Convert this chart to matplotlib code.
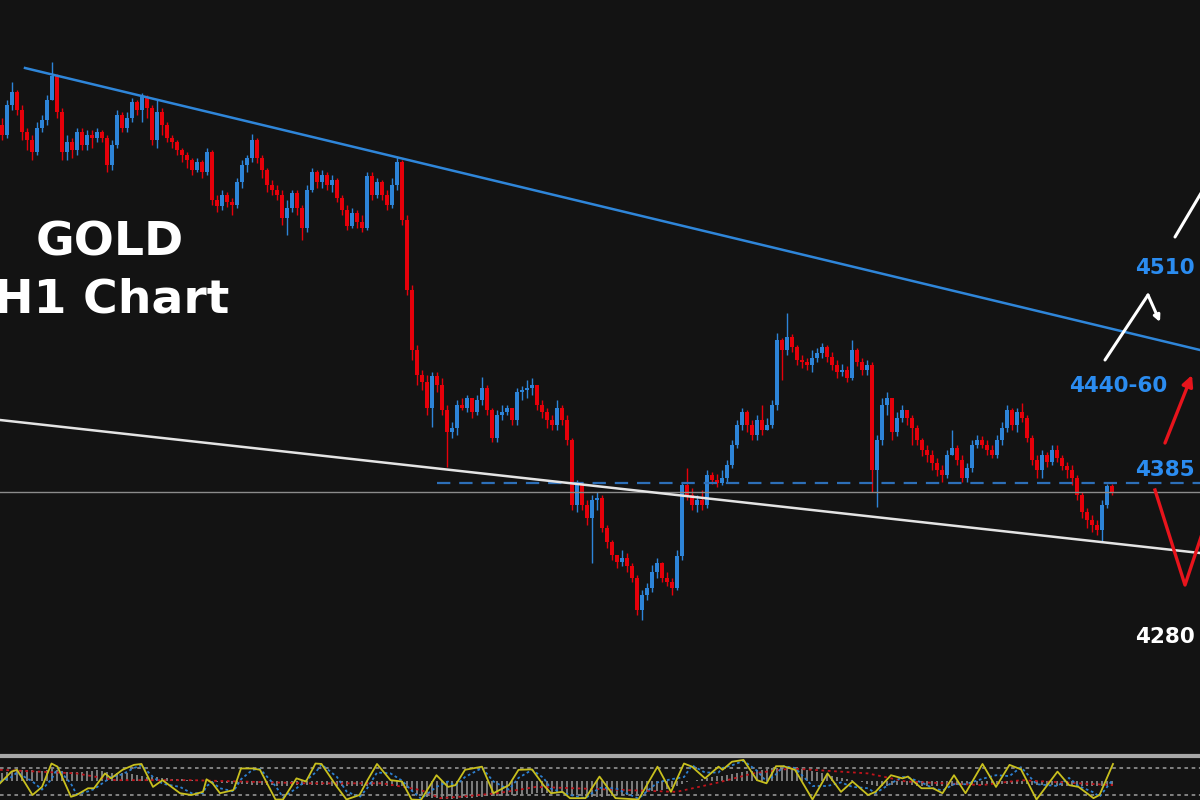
import numpy as np
import matplotlib.pyplot as plt

# GOLD H1 candles (USD), oldest first
first_open = 4743
closes = [4733, 4763, 4776, 4758, 4736, 4728, 4716, 4740, 4748, 4768,
          4792, 4756, 4716, 4726, 4718, 4736, 4723, 4733, 4730, 4736,
          4730, 4703, 4723, 4753, 4740, 4750, 4766, 4758, 4771, 4760,
          4728, 4756, 4743, 4730, 4726, 4718, 4713, 4708, 4698, 4706,
          4696, 4716, 4668, 4662, 4673, 4666, 4663, 4686, 4703, 4710,
          4728, 4710, 4698, 4683, 4678, 4673, 4650, 4660, 4675, 4660,
          4640, 4678, 4696, 4686, 4693, 4683, 4688, 4670, 4658, 4642,
          4655, 4646, 4640, 4692, 4673, 4686, 4673, 4663, 4683, 4706,
          4648, 4578, 4518, 4493, 4486, 4460, 4492, 4483, 4458, 4436,
          4440, 4463, 4460, 4470, 4456, 4468, 4480, 4458, 4430, 4453,
          4456, 4460, 4448, 4476, 4478, 4480, 4483, 4463, 4456, 4448,
          4443, 4460, 4448, 4428, 4363, 4383, 4363, 4350, 4368, 4370,
          4340, 4326, 4313, 4306, 4310, 4302, 4290, 4258, 4273, 4280,
          4296, 4305, 4290, 4286, 4280, 4312, 4383, 4373, 4363, 4368,
          4363, 4393, 4388, 4385, 4390, 4403, 4423, 4443, 4456, 4443,
          4433, 4448, 4438, 4443, 4463, 4528, 4518, 4531, 4521, 4508,
          4506, 4503, 4510, 4515, 4521, 4511, 4503, 4496, 4498, 4490,
          4518, 4506, 4498, 4503, 4398, 4428, 4463, 4470, 4436, 4450,
          4458, 4450, 4440, 4428, 4418, 4413, 4405, 4398, 4393, 4413,
          4420, 4408, 4390, 4400, 4423, 4428, 4423, 4418, 4413, 4428,
          4440, 4458, 4443, 4456, 4450, 4430, 4408, 4398, 4413, 4406,
          4418, 4410, 4402, 4398, 4390, 4373, 4356, 4348, 4343, 4338,
          4363, 4382, 4376]
highs = [4750, 4768, 4786, 4778, 4763, 4740, 4733, 4746, 4753, 4773,
         4806, 4794, 4760, 4733, 4730, 4740, 4740, 4738, 4738, 4740,
         4738, 4733, 4728, 4758, 4756, 4756, 4770, 4768, 4775, 4773,
         4763, 4768, 4760, 4746, 4733, 4728, 4720, 4716, 4710, 4710,
         4708, 4720, 4718, 4673, 4678, 4676, 4670, 4690, 4708, 4713,
         4734, 4730, 4713, 4700, 4688, 4683, 4678, 4668, 4678, 4678,
         4663, 4683, 4700, 4698, 4698, 4696, 4693, 4690, 4673, 4663,
         4660, 4658, 4653, 4696, 4696, 4690, 4688, 4678, 4690, 4711,
         4708, 4653, 4583, 4523, 4498, 4493, 4496, 4496, 4490, 4463,
         4446, 4468, 4470, 4473, 4470, 4473, 4491, 4483, 4460, 4458,
         4463, 4463, 4460, 4480, 4482, 4488, 4490, 4483, 4468, 4460,
         4453, 4468, 4463, 4453, 4430, 4388, 4386, 4368, 4373, 4376,
         4373, 4343, 4328, 4313, 4318, 4315, 4305, 4293, 4278, 4285,
         4303, 4310, 4306, 4296, 4290, 4318, 4386, 4400, 4380, 4373,
         4378, 4398, 4396, 4394, 4398, 4408, 4428, 4448, 4460, 4458,
         4448, 4453, 4463, 4450, 4468, 4535, 4530, 4555, 4534, 4523,
         4513, 4510, 4518, 4520, 4525, 4523, 4516, 4508, 4504, 4502,
         4528, 4520, 4510, 4508, 4506, 4433, 4470, 4476, 4468, 4456,
         4463, 4458, 4453, 4443, 4430, 4423, 4418, 4410, 4403, 4418,
         4438, 4423, 4413, 4405, 4428, 4433, 4432, 4428, 4423, 4433,
         4446, 4463, 4460, 4460, 4465, 4453, 4433, 4413, 4418, 4416,
         4423, 4423, 4413, 4406, 4403, 4393, 4376, 4360, 4353, 4348,
         4368, 4384, 4384]
lows = [4728, 4730, 4758, 4753, 4728, 4718, 4708, 4713, 4736, 4743,
        4768, 4750, 4708, 4708, 4710, 4713, 4718, 4718, 4720, 4726,
        4726, 4696, 4698, 4720, 4736, 4736, 4746, 4753, 4746, 4750,
        4723, 4720, 4733, 4726, 4720, 4713, 4706, 4700, 4693, 4696,
        4690, 4693, 4663, 4656, 4658, 4661, 4653, 4660, 4680, 4696,
        4706, 4705, 4690, 4676, 4673, 4668, 4643, 4633, 4656, 4653,
        4628, 4636, 4676, 4680, 4680, 4678, 4676, 4666, 4653, 4638,
        4640, 4640, 4636, 4638, 4668, 4670, 4668, 4658, 4660, 4678,
        4643, 4573, 4508, 4483, 4478, 4453, 4441, 4476, 4453, 4401,
        4430, 4433, 4458, 4456, 4450, 4453, 4463, 4453, 4426, 4426,
        4448, 4453, 4443, 4443, 4468, 4470, 4473, 4458, 4450, 4440,
        4438, 4438, 4443, 4423, 4358, 4356, 4358, 4343, 4305, 4358,
        4336, 4320, 4308, 4300, 4302, 4296, 4286, 4253, 4248, 4268,
        4276, 4290, 4286, 4282, 4273, 4278, 4308, 4368, 4358, 4356,
        4358, 4360, 4384, 4381, 4383, 4386, 4400, 4420, 4438, 4436,
        4428, 4428, 4433, 4438, 4440, 4458, 4488, 4513, 4516, 4503,
        4500, 4498, 4496, 4506, 4510, 4506, 4498, 4490, 4492, 4486,
        4488, 4502, 4493, 4493, 4376, 4361, 4423, 4453, 4428, 4432,
        4446, 4443, 4423, 4423, 4412, 4406, 4398, 4392, 4386, 4390,
        4413, 4403, 4386, 4386, 4396, 4420, 4420, 4413, 4410, 4410,
        4423, 4436, 4438, 4436, 4446, 4426, 4403, 4390, 4390, 4401,
        4403, 4406, 4398, 4390, 4383, 4368, 4350, 4340, 4336, 4333,
        4326, 4360, 4373]

# trend channel (bar index, price)
upper_trend_x = [4.6, 239.6]
upper_trend_p = [4800, 4518]
lower_trend_x = [-0.4, 239.6]
lower_trend_p = [4448, 4315]
pivot_level = 4385
ref_level = 4376

# projected scenarios
bull_path_x = [220.6, 229.2, 231.6]
bull_path_p = [4508, 4573, 4546]
bull_ext_x = [234.6, 241.6]
bull_ext_p = [4631, 4690]
bear_path_x = [230.6, 236.6, 240.6]
bear_path_p = [4378, 4283, 4343]
rebound_x = [232.6, 238.0]
rebound_p = [4425, 4493]

level_labels = ['4510', '4440-60', '4385', '4280']
level_label_x = [232.6, 223.2, 232.6, 232.6]
level_label_p = [4600, 4482, 4398, 4231]
level_label_colors = ['#2b8cf0', '#2b8cf0', '#2b8cf0', 'white']

# stochastic oscillator (lower pane)
osc_x = [-0.4, 1.9, 3.0, 6.1, 8.0, 9.9, 11.1, 13.8, 14.9, 17.2,
         18.4, 20.6, 21.8, 24.1, 26.4, 27.9, 30.2, 32.1, 35.6, 37.9,
         40.2, 40.9, 42.1, 43.6, 46.3, 47.8, 50.1, 51.6, 54.7, 56.2,
         58.9, 60.8, 62.7, 63.9, 67.0, 68.9, 71.5, 73.1, 75.0, 77.7,
         80.0, 81.9, 83.8, 86.9, 89.2, 90.7, 92.6, 96.0, 98.3, 101.4,
         103.3, 106.0, 108.3, 109.8, 112.1, 113.6, 116.7, 119.5, 122.7, 127.3,
         131.1, 133.8, 136.4, 138.0, 140.6, 143.3, 144.1, 146.0, 148.3, 151.0,
         152.9, 154.8, 156.3, 158.6, 162.1, 165.1, 167.8, 170.1, 173.2, 174.7,
         177.8, 180.1, 181.2, 183.9, 186.2, 188.1, 190.4, 192.7, 196.1, 198.8,
         201.5, 203.8, 206.9, 211.1, 213.4, 215.3, 218.3, 219.5, 222.2]
osc_k = [46, 72, 76, 20, 38, 90, 83, 16, 20, 35,
         35, 68, 57, 76, 87, 89, 38, 53, 24, 20,
         27, 55, 46, 24, 31, 79, 79, 76, 10, 10,
         57, 50, 90, 89, 38, 10, 20, 53, 89, 53,
         50, 10, 9, 64, 38, 42, 76, 83, 24, 42,
         76, 77, 42, 24, 27, 13, 13, 61, 13, 10,
         83, 27, 90, 83, 57, 83, 76, 94, 98, 53,
         46, 84, 84, 76, 10, 68, 27, 50, 20, 27,
         64, 57, 61, 35, 35, 24, 64, 24, 89, 38,
         87, 77, 10, 72, 42, 38, 13, 20, 89]
osc_d = [50, 60, 70, 50, 32, 55, 80, 45, 22, 28,
         33, 50, 60, 66, 80, 86, 60, 45, 38, 24,
         24, 40, 48, 35, 28, 55, 76, 78, 40, 15,
         35, 52, 70, 88, 60, 28, 15, 36, 70, 68,
         52, 30, 12, 38, 50, 40, 60, 80, 50, 32,
         58, 76, 58, 34, 26, 20, 13, 36, 35, 12,
         48, 55, 60, 86, 70, 70, 80, 86, 96, 74,
         50, 66, 84, 80, 40, 40, 48, 38, 35, 24,
         46, 60, 59, 48, 35, 30, 44, 44, 56, 64,
         62, 82, 44, 40, 58, 40, 26, 16, 55]
slow_x = [-0.4, 14.9, 22.6, 37.9, 60.8, 76.1, 83.8, 87.6, 91.4, 99.1, 106.8,
          119.6, 134.9, 142.6, 150.2, 157.9, 173.2, 180.8, 196.1, 203.8, 222.2]
slow_v = [76, 68, 53, 53, 46, 46, 31, 13, 16, 24, 38,
          33, 27, 46, 68, 79, 68, 50, 42, 53, 42]
# momentum histogram, one bar per candle, around a mid line of 51
hist_mid = 51
hist = [18, 20, 22, 24, 24, 25, 24, 22, 23, 25,
        26, 24, 22, 21, 20, 20, 21, 22, 23, 24,
        22, 20, 19, 18, 18, 17, 16, 14, 12, 10,
        9, 8, 7, 6, 5, 4, 4, 3, 2, 2,
        1, 0, -1, -3, -4, -5, -6, -6, -7, -7,
        -8, -8, -8, -9, -9, -10, -10, -10, -9, -9,
        -9, -8, -8, -8, -9, -9, -10, -10, -11, -11,
        -12, -12, -11, -11, -11, -12, -12, -12, -11, -11,
        -12, -16, -22, -28, -32, -35, -37, -38, -40, -40,
        -40, -39, -38, -38, -37, -36, -35, -34, -34, -33,
        -33, -32, -31, -30, -30, -29, -28, -27, -27, -26,
        -26, -25, -25, -26, -28, -32, -34, -35, -36, -36,
        -35, -34, -33, -32, -31, -30, -29, -28, -27, -25,
        -23, -21, -19, -17, -14, -11, -7, -3, 0, 3,
        5, 7, 9, 11, 12, 14, 16, 18, 20, 22,
        23, 24, 25, 27, 28, 29, 30, 30, 29, 28,
        26, 24, 22, 20, 18, 15, 12, 10, 7, 4,
        2, 0, -2, -6, -9, -10, -10, -10, -9, -9,
        -9, -9, -9, -10, -10, -10, -11, -11, -11, -10,
        -10, -9, -9, -9, -8, -8, -8, -7, -7, -7,
        -6, -6, -6, -6, -6, -7, -8, -8, -9, -9,
        -9, -10, -10, -10, -11, -11, -12, -12, -12, -12,
        -12, -11, -10]

BG = '#131313'
UP = '#2d84d8'
DOWN = '#e6000a'

closes = np.array(closes, dtype=float)
opens = np.concatenate([[first_open], closes[:-1]])
highs = np.maximum(np.array(highs, dtype=float), np.maximum(opens, closes))
lows = np.minimum(np.array(lows, dtype=float), np.minimum(opens, closes))
idx = np.arange(len(closes))
colors = np.where(closes >= opens, UP, DOWN)

fig = plt.figure(figsize=(12, 8), dpi=100, facecolor=BG)
ax = fig.add_axes([0, 45 / 800, 1, 755 / 800])
ax.set_facecolor(BG)
ax.set_xlim(-0.4, 239.6)
ax.set_ylim(4113, 4868)
ax.set_xticks([])
ax.set_yticks([])
for s in ax.spines.values():
    s.set_visible(False)

# candles
ax.vlines(idx, lows, highs, colors=colors, linewidth=1.0, zorder=2)
body = np.where(np.abs(closes - opens) < 1, 1, closes - opens)
ax.bar(idx, body, bottom=opens, width=0.76, color=colors, linewidth=0, zorder=3)

# levels and trend lines
ax.axhline(ref_level, color='#8c8c8c', linewidth=1, zorder=4)
ax.plot([87, 239.6], [pivot_level, pivot_level], color='#2d6fb8', linewidth=1.6,
        dashes=(6, 4), zorder=4)
ax.plot(upper_trend_x, upper_trend_p, color='#2f86d9', linewidth=1.8, zorder=5)
ax.plot(lower_trend_x, lower_trend_p, color='#e4e4e4', linewidth=1.8, zorder=5)

# scenario arrows
ax.plot(bull_path_x[:2], bull_path_p[:2], color='white', linewidth=2.2,
        solid_capstyle='round', zorder=6)
ax.annotate('', xy=(bull_path_x[2], bull_path_p[2]), xytext=(bull_path_x[1], bull_path_p[1]),
            arrowprops=dict(arrowstyle='-|>', color='white', lw=2.2, mutation_scale=9,
                            shrinkA=0, shrinkB=0), zorder=6)
ax.plot(bull_ext_x, bull_ext_p, color='white', linewidth=2.2, solid_capstyle='round',
        zorder=6, clip_on=True)
ax.plot(bear_path_x, bear_path_p, color='#e8141c', linewidth=2.4, zorder=6)
ax.annotate('', xy=(rebound_x[1], rebound_p[1]), xytext=(rebound_x[0], rebound_p[0]),
            arrowprops=dict(arrowstyle='-|>', color='#e8141c', lw=2.4, mutation_scale=16,
                            shrinkA=0, shrinkB=0), zorder=6)

for txt, x, p, c in zip(level_labels, level_label_x, level_label_p, level_label_colors):
    ax.text(x, p, txt, color=c, fontsize=15.5, fontweight='bold', family='DejaVu Sans',
            ha='center', va='center', zorder=7)

ax.text(21.6, 4625, 'GOLD', color='white', fontsize=34, fontweight='bold',
        family='DejaVu Sans', ha='center', va='center', zorder=7)
ax.text(22.0, 4568, 'H1 Chart', color='white', fontsize=34, fontweight='bold',
        family='DejaVu Sans', ha='center', va='center', zorder=7)

# oscillator pane
ax2 = fig.add_axes([0, 0, 1, 44 / 800])
ax2.set_facecolor(BG)
ax2.set_xlim(-0.4, 239.6)
ax2.set_ylim(8.9, 106.7)
ax2.set_xticks([])
ax2.set_yticks([])
for name, s in ax2.spines.items():
    s.set_visible(name == 'top')
ax2.spines['top'].set_color('#a8a8a8')
ax2.spines['top'].set_linewidth(3)
ax2.bar(idx, hist, bottom=hist_mid, width=0.3, color='#d0d0d0', alpha=0.55,
        linewidth=0, zorder=1)
for lvl in (80, 20):
    ax2.axhline(lvl, color='#8a8a8a', linewidth=1.3, linestyle=(0, (2, 2)), zorder=2)
ax2.plot(slow_x, slow_v, color='#c0141c', linewidth=1.3, linestyle=(0, (1.5, 2)), zorder=3)
ax2.plot(osc_x, osc_d, color='#2d7fd0', linewidth=1.3, linestyle=(0, (1.5, 1.5)), zorder=3)
ax2.plot(osc_x, osc_k, color='#c8c01e', linewidth=1.3, zorder=4)

fig.savefig('out.png', dpi=100, facecolor=BG)
